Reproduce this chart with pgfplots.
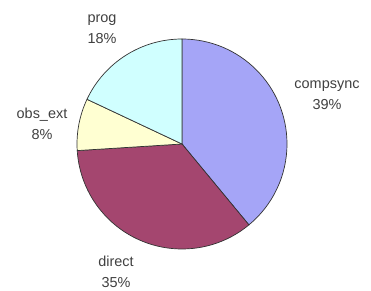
\documentclass[border=0pt]{standalone}
\usepackage{pgfplots}
\usepackage{pgfplotstable}
\pgfplotsset{compat=1.18}
\usepackage{fontspec}
\setmainfont{Liberation Sans}
\definecolor{cA}{HTML}{A5A5F7}
\definecolor{cB}{HTML}{A4466F}
\definecolor{cC}{HTML}{FFFFD2}
\definecolor{cD}{HTML}{D0FFFF}
\definecolor{lbl}{HTML}{404040}
\pgfplotstableread{
label value
compsync 39
direct 35
obs_ext 8
prog 18
}\piedata
\pgfplotstablegetelem{0}{value}\of\piedata \pgfmathsetmacro\vA{\pgfplotsretval}
\pgfplotstablegetelem{1}{value}\of\piedata \pgfmathsetmacro\vB{\pgfplotsretval}
\pgfplotstablegetelem{2}{value}\of\piedata \pgfmathsetmacro\vC{\pgfplotsretval}
\pgfplotstablegetelem{3}{value}\of\piedata \pgfmathsetmacro\vD{\pgfplotsretval}
\pgfmathsetmacro\aA{90-3.6*\vA}
\pgfmathsetmacro\aB{\aA-3.6*\vB}
\pgfmathsetmacro\aC{\aB-3.6*\vC}
\pgfmathsetmacro\aD{\aC-3.6*\vD}
\begin{document}
\begin{tikzpicture}
\begin{axis}[
  width=371bp, height=291bp, scale only axis,
  xmin=0, xmax=371, ymin=0, ymax=291,
  hide axis, clip=false,
]
\path (axis cs:0,0) rectangle (axis cs:371,291);
\def\cx{182}\def\cy{147}\def\R{105bp}
\filldraw[fill=cA, draw=black!80, line width=0.7bp] (axis cs:\cx,\cy) -- ++(90:\R) arc[start angle=90, end angle=\aA, radius=\R] -- cycle;
\filldraw[fill=cB, draw=black!80, line width=0.7bp] (axis cs:\cx,\cy) -- ++(\aA:\R) arc[start angle=\aA, end angle=\aB, radius=\R] -- cycle;
\filldraw[fill=cC, draw=black!80, line width=0.7bp] (axis cs:\cx,\cy) -- ++(\aB:\R) arc[start angle=\aB, end angle=\aC, radius=\R] -- cycle;
\filldraw[fill=cD, draw=black!80, line width=0.7bp] (axis cs:\cx,\cy) -- ++(\aC:\R) arc[start angle=\aC, end angle=\aD, radius=\R] -- cycle;
\tikzset{lab/.style={text=lbl, align=center, font=\fontsize{14.5}{21.5}\selectfont, inner sep=0pt}}
\node[lab] at (axis cs:327,196) {compsync\\39\%};
\node[lab] at (axis cs:116,19) {direct\\35\%};
\node[lab] at (axis cs:42,167) {obs\_ext\\8\%};
\node[lab] at (axis cs:102,262) {prog\\18\%};
\end{axis}
\end{tikzpicture}
\end{document}
